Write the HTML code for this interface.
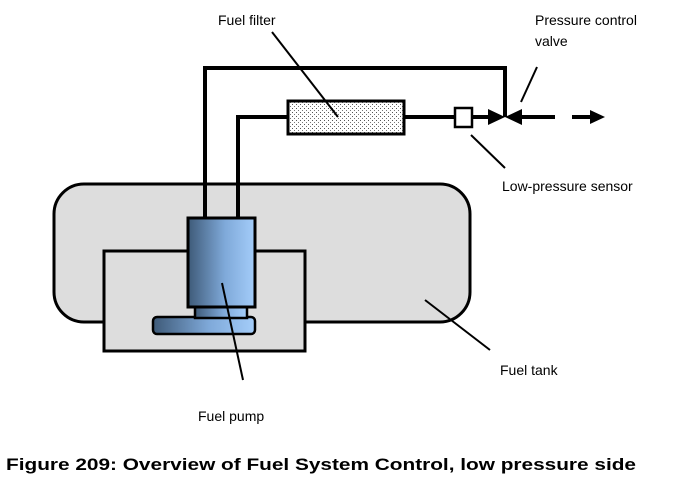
<!DOCTYPE html>
<html><head><meta charset="utf-8"><style>
html,body{margin:0;padding:0;background:#fff;width:680px;height:479px;overflow:hidden}
svg{display:block}
text{font-family:"Liberation Sans",Arial,sans-serif;font-size:14px;fill:#000}
</style></head><body>
<svg width="680" height="479" viewBox="0 0 680 479" xmlns="http://www.w3.org/2000/svg">
<defs>
<linearGradient id="g" x1="0" x2="1" y1="0" y2="0">
<stop offset="0" stop-color="#3e5a78"/><stop offset="0.55" stop-color="#7fa9d9"/><stop offset="1" stop-color="#a4cdfa"/>
</linearGradient>
<pattern id="dots" width="4" height="4" patternUnits="userSpaceOnUse">
<rect width="4" height="4" fill="#fff"/><rect x="0" y="0" width="1" height="1" fill="#555"/><rect x="2" y="2" width="1" height="1" fill="#777"/>
</pattern>
</defs>
<rect x="54" y="184" width="416" height="138" rx="30" fill="#dddddd" stroke="#000" stroke-width="3"/>
<rect x="104" y="251" width="201" height="100" fill="#dddddd" stroke="#000" stroke-width="3"/>
<polyline points="205,218 205,68 505,68 505,117" fill="none" stroke="#000" stroke-width="4"/>
<polyline points="238,218 238,117 288,117" fill="none" stroke="#000" stroke-width="4"/>
<line x1="404" y1="117" x2="488" y2="117" stroke="#000" stroke-width="4"/>
<line x1="520" y1="117" x2="555" y2="117" stroke="#000" stroke-width="4"/>
<line x1="572" y1="117" x2="592" y2="117" stroke="#000" stroke-width="4"/>
<polygon points="590,110 605,117 590,124" fill="#000"/>
<rect x="288" y="101" width="116" height="33" fill="url(#dots)" stroke="#000" stroke-width="3"/>
<rect x="455" y="108" width="17" height="19" fill="#fff" stroke="#000" stroke-width="2.5"/>
<polygon points="488,109 488,125 505,117" fill="#000"/>
<polygon points="522,109 522,125 505,117" fill="#000"/>
<rect x="153" y="317" width="102" height="17" rx="4" fill="url(#g)" stroke="#000" stroke-width="2.5"/>
<rect x="195" y="306" width="52" height="12" fill="url(#g)" stroke="#000" stroke-width="2.5"/>
<rect x="188" y="218" width="67" height="89" fill="url(#g)" stroke="#000" stroke-width="3"/>
<g stroke="#000" stroke-width="2">
<line x1="222" y1="283" x2="243" y2="380"/>
<line x1="425" y1="300" x2="490" y2="350"/>
<line x1="272" y1="32" x2="338" y2="117"/>
<line x1="537" y1="67" x2="521" y2="102"/>
<line x1="471" y1="135" x2="505" y2="168"/>
</g>
<text x="218" y="25">Fuel filter</text>
<text x="535" y="25">Pressure control</text>
<text x="535" y="46">valve</text>
<text x="502" y="191">Low-pressure sensor</text>
<text x="500" y="375">Fuel tank</text>
<text x="198" y="421">Fuel pump</text>
<text x="6" y="470" style="font-size:17px;font-weight:bold" textLength="630" lengthAdjust="spacingAndGlyphs">Figure 209: Overview of Fuel System Control, low pressure side</text>
</svg>
</body></html>
